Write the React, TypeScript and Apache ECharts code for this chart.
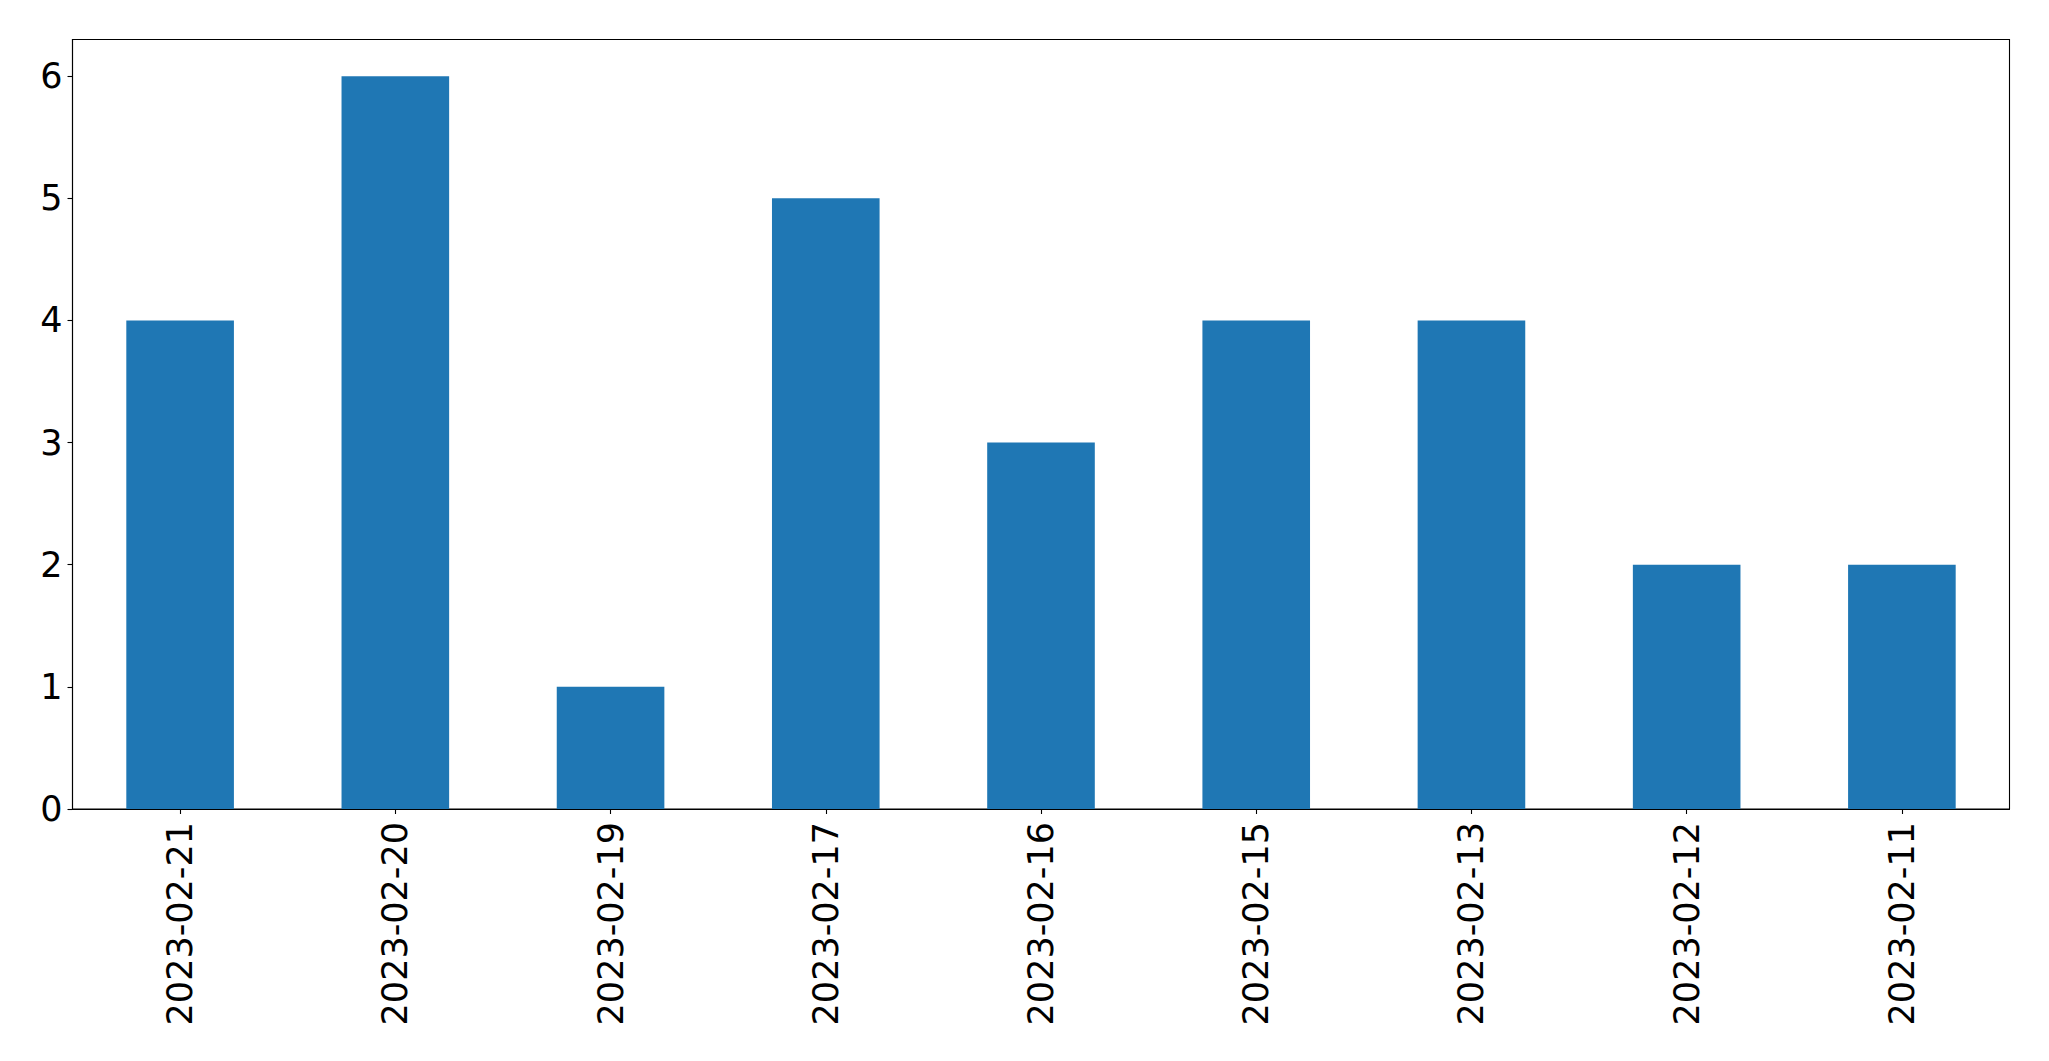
import React, { useEffect, useRef } from "react";
import * as echarts from "echarts";

const categories = [
  "2023-02-21",
  "2023-02-20",
  "2023-02-19",
  "2023-02-17",
  "2023-02-16",
  "2023-02-15",
  "2023-02-13",
  "2023-02-12",
  "2023-02-11",
];
const counts = [4, 6, 1, 5, 3, 4, 4, 2, 2];
const yTicks = [0, 1, 2, 3, 4, 5, 6];

export default function App() {
  const ref = useRef<HTMLDivElement>(null);
  useEffect(() => {
    if (!ref.current) return;
    const chart = echarts.init(ref.current, undefined, { renderer: "svg" });
    const font = "DejaVu Sans";
    chart.setOption({
      animation: false,
      backgroundColor: "#ffffff",
      grid: {
        left: 72.5,
        top: 39.5,
        right: 39.5,
        bottom: 252,
        show: true,
        borderColor: "#000000",
        borderWidth: 1.1,
        backgroundColor: "transparent",
      },
      xAxis: {
        type: "category",
        data: categories,
        boundaryGap: true,
        axisLine: { show: true, lineStyle: { color: "#000000", width: 1.1 } },
        axisTick: {
          show: true,
          alignWithLabel: true,
          length: 5,
          inside: false,
          lineStyle: { color: "#000000", width: 1.1 },
        },
        axisLabel: {
          rotate: 90,
          margin: 13,
          color: "#000000",
          fontSize: 35,
          fontFamily: font,
          interval: 0,
        },
        splitLine: { show: false },
      },
      yAxis: {
        type: "value",
        min: 0,
        max: 6.3,
        interval: 1,
        axisLine: { show: true, lineStyle: { color: "#000000", width: 1.1 } },
        axisTick: {
          show: true,
          length: 5,
          inside: false,
          customValues: yTicks,
          lineStyle: { color: "#000000", width: 1.1 },
        },
        axisLabel: {
          margin: 10,
          color: "#000000",
          fontSize: 35,
          fontFamily: font,
          customValues: yTicks,
        },
        splitLine: { show: false },
      },
      series: [
        {
          type: "bar",
          data: counts,
          barWidth: "50%",
          itemStyle: { color: "#1f77b4" },
        },
      ],
    });
    return () => chart.dispose();
  }, []);
  return (
    <div
      ref={ref}
      style={{ position: "fixed", left: 0, top: 0, width: 2049, height: 1061 }}
    />
  );
}
